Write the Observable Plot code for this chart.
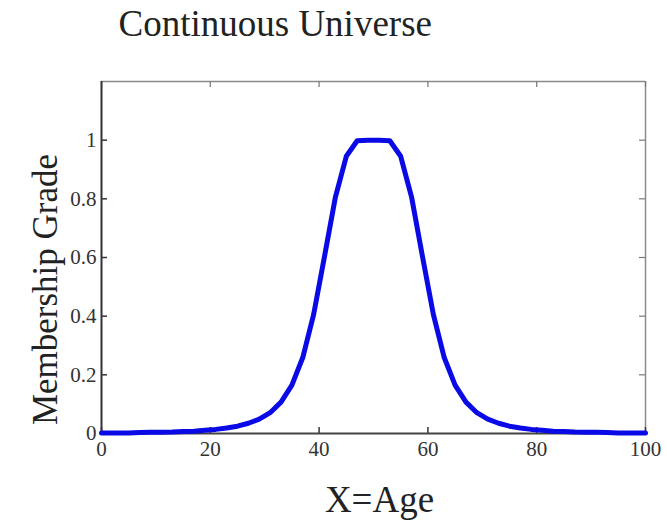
<!DOCTYPE html>
<html>
<head>
<meta charset="utf-8">
<script src="https://cdn.jsdelivr.net/npm/d3@7"></script>
<script src="https://cdn.jsdelivr.net/npm/@observablehq/plot@0.6"></script>
<style>
  html, body { margin: 0; padding: 0; background: #fff; }
  svg { display: block; }
</style>
</head>
<body>
<div id="chart"></div>
<script>
// Membership grade of "middle age" over a continuous age universe
const ages = [0, 1, 3, 5, 7, 9, 11, 13, 15, 17, 19, 21, 23, 25, 27, 29, 31, 33, 35, 37, 39,
              41, 43, 45, 47, 49, 51, 53, 55, 57, 59, 61, 63, 65, 67, 69, 71, 73, 75, 77, 79,
              81, 83, 85, 87, 89, 91, 93, 95, 97, 99, 100];
const grades = [0.002, 0.002, 0.002, 0.002, 0.003, 0.004, 0.004, 0.005, 0.007, 0.008, 0.011,
                0.014, 0.019, 0.025, 0.035, 0.049, 0.071, 0.107, 0.165, 0.259, 0.406,
                0.604, 0.806, 0.945, 0.998, 1, 1, 0.998, 0.945, 0.806, 0.604,
                0.406, 0.259, 0.165, 0.107, 0.071, 0.049, 0.035, 0.025, 0.019, 0.014,
                0.011, 0.008, 0.007, 0.005, 0.004, 0.004, 0.003, 0.002, 0.002, 0.002, 0.002];
const xTicks = [0, 20, 40, 60, 80, 100];
const yTicks = [0, 0.2, 0.4, 0.6, 0.8, 1];
const yTickLabels = ["0", "0.2", "0.4", "0.6", "0.8", "1"];

const titleText = "Continuous Universe";
const xLabel = "X=Age";
const yLabel = "Membership Grade";

const curve = ages.map((a, i) => ({age: a, grade: grades[i]}));

const W = 667, H = 525;
const mTop = 81, mLeft = 101, mRight = 22, mBottom = 92;
const innerH = H - mTop - mBottom;
const innerW = W - mLeft - mRight;
const tickLen = 6;
const serif = "'Liberation Serif', 'DejaVu Serif', serif";

const plot = Plot.plot({
  width: W,
  height: H,
  marginTop: mTop,
  marginLeft: mLeft,
  marginRight: mRight,
  marginBottom: mBottom,
  style: {fontFamily: serif, background: "#fff"},
  x: {domain: [0, 100]},
  y: {domain: [0, 1.2]},
  marks: [
    // box: lighter top and right edges, darker left and bottom axes
    Plot.ruleY([1.2], {stroke: "#8a8a8a", strokeWidth: 1.5}),
    Plot.ruleX([100], {stroke: "#8a8a8a", strokeWidth: 1.5}),
    // inward tick marks on all four sides
    Plot.tickX(xTicks, {x: d => d, insetTop: innerH - tickLen, stroke: "#333", strokeWidth: 1.5}),
    Plot.tickX(xTicks, {x: d => d, insetBottom: innerH - tickLen, stroke: "#777", strokeWidth: 1.2}),
    Plot.tickY(yTicks, {y: d => d, insetRight: innerW - tickLen, stroke: "#333", strokeWidth: 1.5}),
    Plot.tickY(yTicks, {y: d => d, insetLeft: innerW - tickLen, stroke: "#777", strokeWidth: 1.2}),
    Plot.ruleY([0], {stroke: "#444", strokeWidth: 2}),
    Plot.ruleX([0], {stroke: "#333", strokeWidth: 2}),
    // membership curve
    Plot.line(curve, {x: "age", y: "grade", stroke: "#0a0ae6", strokeWidth: 5, curve: "linear"}),
    // tick labels
    Plot.axisX(xTicks, {tickSize: 0, tickPadding: 8, fontSize: 21, fill: "#333", label: null}),
    Plot.axisY(yTicks, {tickSize: 0, tickPadding: 5, fontSize: 21, fill: "#333", label: null,
      tickFormat: d => yTickLabels[yTicks.indexOf(d)]}),
    // title and axis labels
    Plot.text([titleText], {frameAnchor: "top-left", dx: 17, dy: -57, lineAnchor: "middle",
      textAnchor: "start", fontSize: 37, fill: "#222"}),
    Plot.text([xLabel], {frameAnchor: "bottom", dx: 6, dy: 67, lineAnchor: "middle",
      textAnchor: "middle", fontSize: 37, fill: "#222"}),
    Plot.text([yLabel], {frameAnchor: "left", dx: -56, dy: 32, rotate: -90, lineAnchor: "middle",
      textAnchor: "middle", fontSize: 35, fill: "#222"})
  ]
});

document.getElementById("chart").appendChild(plot);
</script>
</body>
</html>
